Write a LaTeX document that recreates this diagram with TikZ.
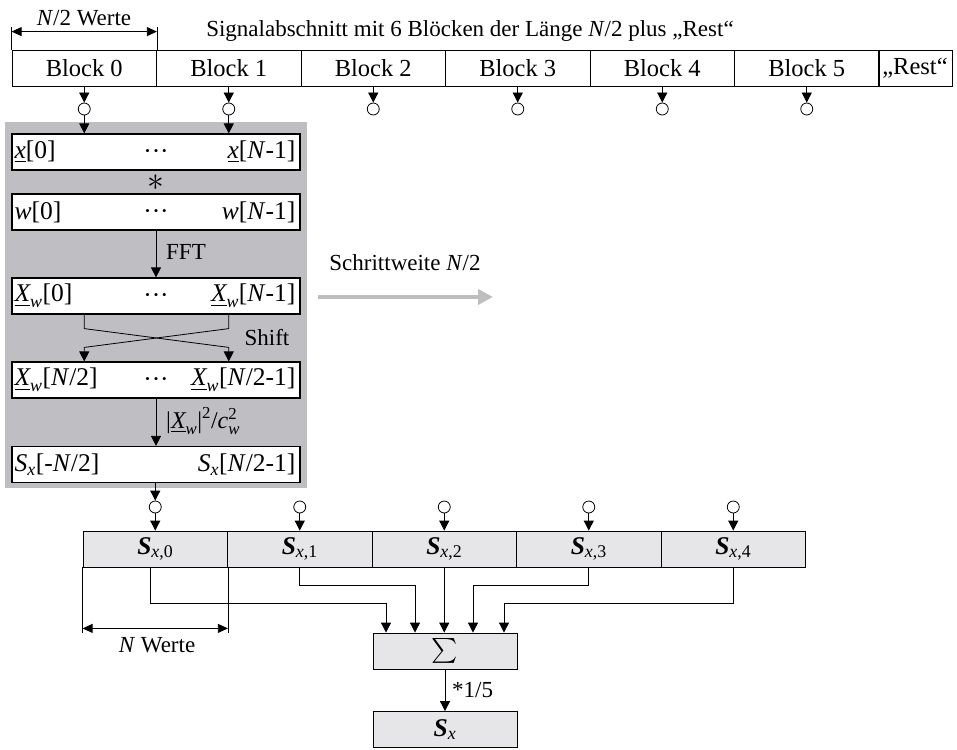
\documentclass[tikz,border=0pt]{standalone}
\usepackage{amsmath}
\usepackage{graphicx}
\usepackage{fontspec}
\setmainfont{Liberation Serif}
\usetikzlibrary{arrows.meta,calc}

\newcommand{\tv}[1]{\text{\itshape #1}}
\newcommand{\uXw}{\underline{\tv{X}}_{\tv{w}}}
\newcommand{\Sxb}[1]{\text{\bfseries\itshape S}_{\tv{x}\text{,#1}}}
\newcommand{\midots}{\vphantom{[}···}

\definecolor{panelgray}{RGB}{191,191,195}
\definecolor{rowgray}{RGB}{230,230,232}
\definecolor{stepgray}{RGB}{190,190,192}

\begin{document}
\begin{tikzpicture}[x=1pt, y=-1pt,
  every node/.style={font=\fontsize{23}{27}\selectfont, inner sep=0pt},
  big/.style={font=\fontsize{25.5}{30}\selectfont},
  arr/.style={-{Triangle[length=10pt,width=10pt]}, line width=0.8pt},
  dim/.style={{Triangle[length=10pt,width=9pt]}-{Triangle[length=10pt,width=9pt]}, line width=0.8pt},
  blk/.style={draw, line width=0.8pt, minimum width=144.5pt, minimum height=36pt, font=\fontsize{24.5}{29}\selectfont},
  tap/.style={draw, circle, line width=0.8pt, minimum size=12pt},
  vecbox/.style={draw, fill=white, line width=1.2pt, minimum width=288pt, minimum height=36pt, big},
  sumbox/.style={draw, fill=rowgray, line width=0.8pt, minimum width=144pt, minimum height=36pt, big}]

  \useasboundingbox (0,0) rectangle (957,749);

  % signal blocks
  \foreach \i in {0,...,5} {
    \node[blk] (b\i) at (84.25+144.5*\i,68) {Block \i};
    \node[tap] (c\i) at (b\i |- 0,109) {};
    \draw[arr] (b\i) -- (c\i);
  }
  \node[blk, minimum width=74pt] (rest) at (915,68) {„Rest“};

  \draw[line width=0.8pt] (b0.north west) -- ++(0,-23);
  \draw[line width=0.8pt] (b0.north east) -- ++(0,-23);
  \coordinate (dimL) at ($(b0.north west)+(0,-18)$);
  \coordinate (dimR) at ($(b0.north east)+(0,-18)$);
  \draw[dim] (dimL) -- (dimR);
  \node (halfN) at (84,18) {\textit{N}/2 Werte};
  \node (title) at (470,31) {Signalabschnitt mit 6 Blöcken der Länge \textit{N}/2 plus „Rest“};

  % processing of one segment
  \fill[panelgray] (5,122) rectangle (307,488);

  \node[vecbox] (xv) at (156,152) {\midots};
  \node[big, anchor=west] (xv0) at ([xshift=3pt]xv.west) {$\underline{\tv{x}}$[0]};
  \node[big, anchor=east] (xv1) at ([xshift=-5pt]xv.east) {$\underline{\tv{x}}$[\textit{N}-1]};

  \node (conv) at (156,183) {\scalebox{1.35}{$\ast$}};

  \node[vecbox] (wv) at (156,212) {\midots};
  \node[big, anchor=west] (wv0) at ([xshift=3pt]wv.west) {\textit{w}[0]};
  \node[big, anchor=east] (wv1) at ([xshift=-5pt]wv.east) {\textit{w}[\textit{N}-1]};

  \node[vecbox] (Xv) at (156,296) {\midots};
  \node[big, anchor=west] (Xv0) at ([xshift=3pt]Xv.west) {$\uXw$[0]};
  \node[big, anchor=east] (Xv1) at ([xshift=-5pt]Xv.east) {$\uXw$[\textit{N}-1]};

  \node[vecbox] (Xs) at (156,380) {\midots};
  \node[big, anchor=west] (Xs0) at ([xshift=3pt]Xs.west) {$\uXw$[\textit{N}/2]};
  \node[big, anchor=east] (Xs1) at ([xshift=-5pt]Xs.east) {$\uXw$[\textit{N}/2-1]};

  \node[vecbox] (Sv) at (156,464.5) {};
  \node[big, anchor=west] (Sv0) at ([xshift=3pt]Sv.west) {$\tv{S}_{\tv{x}}$[-\textit{N}/2]};
  \node[big, anchor=east] (Sv1) at ([xshift=-5pt]Sv.east) {$\tv{S}_{\tv{x}}$[\textit{N}/2-1]};

  \draw[arr] (c0) -- (c0 |- xv.north);
  \draw[arr] (c1) -- (c1 |- xv.north);

  \draw[arr] (wv) -- (Xv);
  \node[anchor=west] (fft) at (166,252) {FFT};

  \draw[arr] (c0 |- Xv.south) -- ++(0,14) -- ($(c1 |- Xs.north)+(0,-14)$) -- (c1 |- Xs.north);
  \draw[arr] (c1 |- Xv.south) -- ++(0,14) -- ($(c0 |- Xs.north)+(0,-14)$) -- (c0 |- Xs.north);
  \node (shift) at (267,338) {Shift};

  \draw[arr] (Xs) -- (Sv);
  \node[anchor=west, font=\fontsize{24}{28}\selectfont] (pw) at (166,421) {$\text{|}\uXw\text{|}^{\text{2}}\text{/}\tv{c}_{\tv{w}}^{\text{2}}$};

  % step to next segment
  \node (stepl) at (405,263) {Schrittweite \textit{N}/2};
  \coordinate (stepA) at (318,297);
  \coordinate (stepB) at (493,297);
  \draw[stepgray, line width=4pt, -{Triangle[length=15pt,width=15pt]}] (stepA) -- (stepB);

  % averaging of the segment spectra
  \foreach \i in {0,...,4} {
    \node[blk, fill=rowgray, big] (r\i) at (155.25+144.5*\i,549) {$\Sxb{\i}$};
    \node[tap] (d\i) at (r\i |- 0,507) {};
    \draw[arr] (d\i) -- (r\i);
  }
  \draw[arr] (d0 |- Sv.south) -- (d0);

  \node[sumbox] (sum) at (445,651) {$\textstyle\sum$};
  \node[sumbox] (res) at (445,729.5) {$\text{\bfseries\itshape S}_{\tv{x}}$};
  \draw[arr] (sum) -- (res);
  \node[anchor=west] (scale) at (452,690) {*1/5};

  \draw[arr] ([xshift=-5pt]r0.south) -- ++(0,36) -| ([xshift=-59pt]sum.north);
  \draw[arr] (r1.south) -- ++(0,18) -| ([xshift=-30pt]sum.north);
  \draw[arr] (r2.south) -- (r2.south |- sum.north);
  \draw[arr] (r3.south) -- ++(0,18) -| ([xshift=28pt]sum.north);
  \draw[arr] (r4.south) -- ++(0,36) -| ([xshift=59pt]sum.north);

  \draw[line width=0.8pt] (r0.south west) -- ++(0,66);
  \draw[line width=0.8pt] (r0.south east) -- ++(0,66);
  \coordinate (dimL2) at ($(r0.south west)+(0,61)$);
  \coordinate (dimR2) at ($(r0.south east)+(0,61)$);
  \draw[dim] (dimL2) -- (dimR2);
  \node (fullN) at (157,645) {\textit{N} Werte};

\end{tikzpicture}
\end{document}
